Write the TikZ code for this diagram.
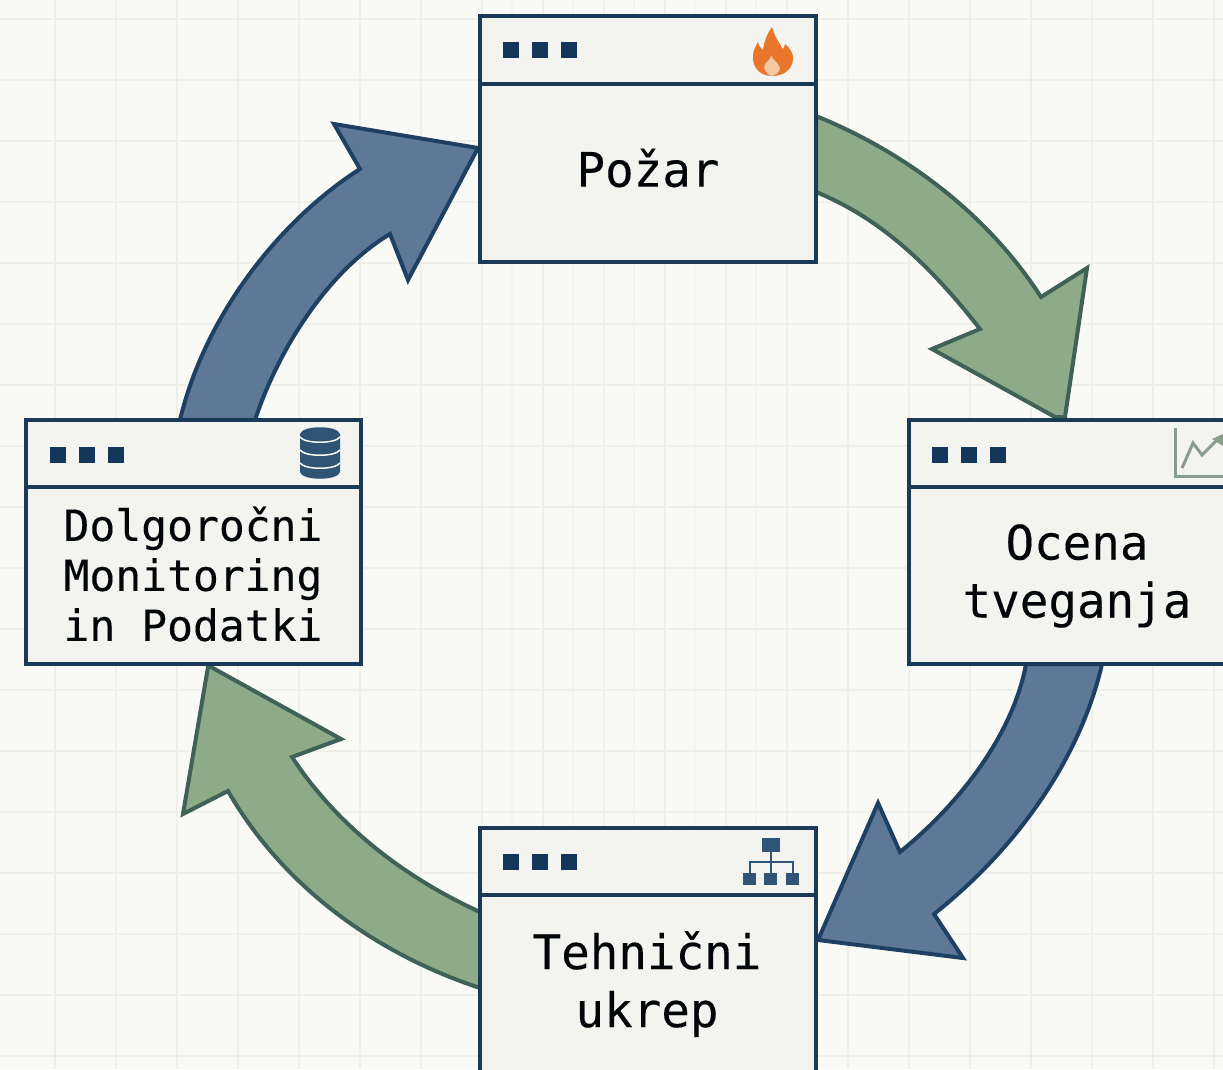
\documentclass[tikz,border=0pt]{standalone}
\usepackage{fontspec}
\newfontfamily\labelfont[FakeBold=0.25]{DejaVu Sans Mono}
\usetikzlibrary{backgrounds,calc}
\definecolor{paperbg}{HTML}{F9F9F5}
\definecolor{gridcol}{HTML}{F0F0EB}
\definecolor{gridsoft}{HTML}{F4F4F0}
\definecolor{boxfill}{HTML}{F3F3EF}
\definecolor{boxline}{HTML}{1B3A57}
\definecolor{dotcol}{HTML}{14365A}
\definecolor{greenfill}{HTML}{8FAA88}
\definecolor{greenline}{HTML}{3F6158}
\definecolor{bluefill}{HTML}{5E7898}
\definecolor{blueline}{HTML}{1E4163}
\definecolor{iconblue}{HTML}{2F5475}
\definecolor{flamecol}{HTML}{E8762B}
\definecolor{flamecore}{HTML}{F3C9A4}
\definecolor{chartcol}{HTML}{8A9D8C}
\tikzset{
  winframe/.style={draw=boxline,fill=boxfill,line width=4pt,rectangle,inner sep=0pt,outer sep=0pt},
  winrule/.style={draw=boxline,line width=4pt},
  windot/.style={fill=dotcol},
  bodytext/.style={font=\labelfont\fontsize{47.5}{58}\selectfont,text=black!90!boxline,align=center,inner sep=0pt},
  smalltext/.style={font=\labelfont\fontsize{43}{50}\selectfont,text=black!90!boxline,align=center,inner sep=0pt},
  greenarrow/.style={fill=greenfill,draw=greenline,line width=4pt,line join=miter},
  bluearrow/.style={fill=bluefill,draw=blueline,line width=4pt,line join=miter},
  gridline/.style={draw=gridcol,line width=1.6pt},
  softline/.style={draw=gridsoft,line width=1.6pt}
}
\newcommand{\windots}[2]{%
  \fill[windot] (#1,#2) rectangle ++(16,16);
  \fill[windot] (#1+29,#2) rectangle ++(16,16);
  \fill[windot] (#1+58,#2) rectangle ++(16,16);}
\begin{document}
\begin{tikzpicture}[x=1pt,y=-1pt]
\useasboundingbox (0,0) rectangle (1223,1069);
\clip (0,0) rectangle (1223,1069);
% windows
\node[winframe,minimum width=336pt,minimum height=246pt] (pozar) at (648,139) {};
\node[winframe,minimum width=336pt,minimum height=244pt] (ocena) at (1077,542) {};
\node[winframe,minimum width=336pt,minimum height=246pt] (tehnicni) at (648,951) {};
\node[winframe,minimum width=335pt,minimum height=244pt] (monitoring) at (193.5,542) {};
\draw[winrule] (480,84) -- (816,84);
\draw[winrule] (910,487) -- (1223,487);
\draw[winrule] (480,895) -- (816,895);
\draw[winrule] (26,487) -- (361,487);
\windots{503}{42}
\windots{932}{447}
\windots{503}{854}
\windots{50}{447}
% labels
\node[bodytext] (pozartxt) at (648,168) {Požar};
\node[bodytext] (ocenatxt) at (1077,576) {Ocena\\tveganja};
\node[bodytext] (tehntxt) at (647,984) {Tehnični\\ukrep};
\node[smalltext] (montxt) at (193,574) {Dolgoročni\\Monitoring\\in Podatki};
% flame
\fill[flamecol] (772,76) .. controls (760,76) and (752,67) .. (753,56)
  .. controls (753,50) and (756,46) .. (758,42) .. controls (759,46) and (760,48) .. (763,50)
  .. controls (764,42) and (767,34) .. (772,27) .. controls (774,34) and (777,40) .. (780,44)
  .. controls (781,47) and (782,48) .. (783,49) .. controls (784,47) and (785,46) .. (785,44)
  .. controls (790,48) and (794,54) .. (793,60) .. controls (792,69) and (784,76) .. (772,76) -- cycle;
\fill[flamecore] (771,76) .. controls (765,73) and (763,68) .. (765,64) .. controls (767,61) and (770,60) .. (771,56)
  .. controls (774,60) and (779,64) .. (780,68) .. controls (780,72) and (776,75) .. (771,76) -- cycle;
% chart
\draw[chartcol,line width=3pt,line cap=butt] (1175,428) -- (1175,476) -- (1223,476);
\draw[chartcol,line width=3pt] (1182,468) -- (1193,443) -- (1202,455) -- (1216,441);
\fill[chartcol] (1223,434) -- (1223,446) -- (1212,439) -- cycle;
% database
\fill[iconblue] (300,434) .. controls (302,425) and (338,425) .. (340,434)
  -- (340,472) .. controls (338,481) and (302,481) .. (300,472) -- cycle;
\draw[paperbg,line width=1.5pt] (300,437) .. controls (305,444) and (335,444) .. (340,437);
\draw[paperbg,line width=1.5pt] (300,450) .. controls (305,457) and (335,457) .. (340,450);
\draw[paperbg,line width=1.5pt] (300,463) .. controls (305,470) and (335,470) .. (340,463);
% hierarchy
\fill[iconblue] (762,838) rectangle (780,852);
\draw[iconblue,line width=2.6pt] (771,852) -- (771,873) (750,873) -- (750,862) -- (793,862) -- (793,873);
\fill[iconblue] (743,873) rectangle (756,885);
\fill[iconblue] (764,873) rectangle (777,885);
\fill[iconblue] (786,873) rectangle (799,885);
\begin{scope}[on background layer]
\fill[paperbg] (0,0) rectangle (1223,1069);
\foreach \gx in {55,116,177,238,299,360,421,482,543,604,665,726,787,848,909,970,1031,1092,1153,1214}
  \draw[gridline] (\gx,0) -- (\gx,1069);
\foreach \gx in {512,573,634,695,756}
  \draw[softline] (\gx,0) -- (\gx,1069);
\foreach \gy in {19,80,141,202,263,324,385,446,507,568,629,690,751,812,873,934,995,1056}
  \draw[gridline] (0,\gy) -- (1223,\gy);
% Požar -> Ocena
\draw[greenarrow] ($(pozar.east)+(0,-23)$) .. controls (900,150) and (985,210) .. (1041,297)
  -- (1087,268) -- ($(ocena.north west)+(156,-3)$) -- ($(ocena.north west)+(146,-3)$) -- (932,349) -- (980,329)
  .. controls (930,265) and (880,218) .. ($(pozar.east)+(0,53)$) -- cycle;
% Ocena -> Tehnični
\draw[bluearrow] ($(ocena.south west)+(117,0)$) .. controls (1015,725) and (970,795) .. (900,852)
  -- (878,803) -- ($(tehnicni.east)+(2,-11)$) -- (963,958) -- (934,914)
  .. controls (1015,850) and (1080,760) .. ($(ocena.south west)+(193,0)$) -- cycle;
% Tehnični -> Monitoring
\draw[greenarrow] ($(tehnicni.west)+(0,-39)$) .. controls (410,880) and (340,830) .. (292,757)
  -- (341,739) -- ($(monitoring.south west)+(185,3)$) -- ($(monitoring.south west)+(182,3)$) -- (183,814) -- (228,791)
  .. controls (285,890) and (380,955) .. ($(tehnicni.west)+(0,37)$) -- cycle;
% Monitoring -> Požar
\draw[bluearrow] ($(monitoring.north west)+(154,0)$) .. controls (205,315) and (280,220) .. (360,169)
  -- (334,124) -- ($(pozar.west)+(-2,9)$) -- (408,280) -- (390,234)
  .. controls (330,270) and (280,345) .. ($(monitoring.north west)+(229,0)$) -- cycle;
\end{scope}
\end{tikzpicture}
\end{document}
